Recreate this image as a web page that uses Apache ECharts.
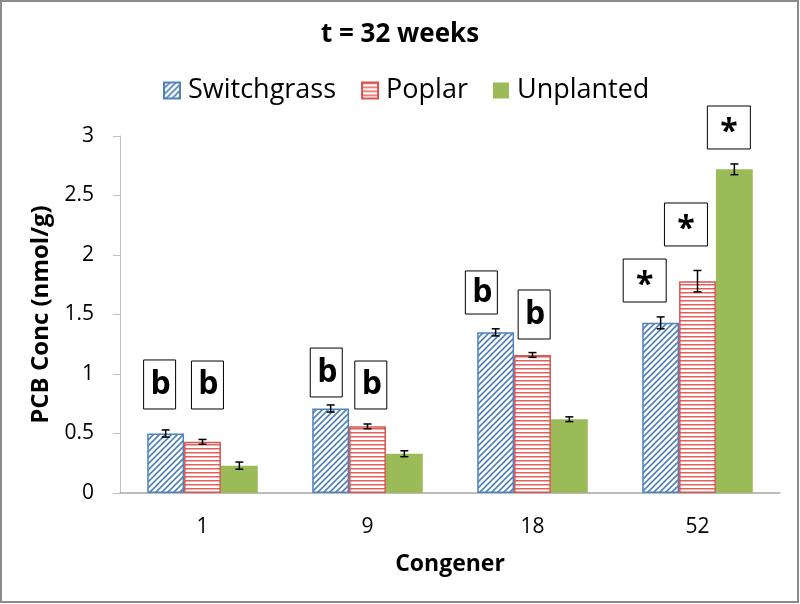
<!DOCTYPE html>
<html>
<head>
<meta charset="utf-8">
<script src="https://cdn.jsdelivr.net/npm/echarts@6/dist/echarts.min.js"></script>
<style>
  html, body { margin: 0; padding: 0; background: #fff; }
  #chart { width: 800px; height: 604px; }
</style>
</head>
<body>
<div id="chart"></div>
<script>
const congeners = ['1', '9', '18', '52'];
const seriesNames = ['Switchgrass', 'Poplar', 'Unplanted'];
const switchgrass = [0.50, 0.71, 1.35, 1.43];
const poplar = [0.43, 0.56, 1.16, 1.78];
const unplanted = [0.23, 0.33, 0.62, 2.72];
const switchgrassErr = [0.03, 0.03, 0.03, 0.05];
const poplarErr = [0.02, 0.02, 0.02, 0.09];
const unplantedErr = [0.03, 0.025, 0.02, 0.045];
const yTicks = [0, 0.5, 1, 1.5, 2, 2.5, 3];

// significance marks: category, series, text
const marks = [
  [0, 0, 'b'], [0, 1, 'b'],
  [1, 0, 'b'], [1, 1, 'b'],
  [2, 0, 'b'], [2, 1, 'b'],
  [3, 0, '*'], [3, 1, '*'], [3, 2, '*']
];
// where each mark's box sits: box top / bottom in axis units, horizontal shift in category widths
const markBoxes = [
  [1.118, 0.706, -0.26], [1.109, 0.706, 0.03],
  [1.218, 0.807, -0.25], [1.109, 0.706, 0.02],
  [1.866, 1.504, -0.31], [1.706, 1.294, 0.01],
  [1.966, 1.605, -0.32], [2.437, 2.076, -0.07], [3.252, 2.891, 0.19]
];

const catGap = 0.33;

function pattern(kind, color) {
  const c = document.createElement('canvas');
  const s = kind === 'diag' ? 6 : 4;
  c.width = s; c.height = s;
  const ctx = c.getContext('2d');
  ctx.fillStyle = '#fff';
  ctx.fillRect(0, 0, s, s);
  if (kind === 'diag') {
    ctx.strokeStyle = color;
    ctx.lineWidth = 1.6;
    ctx.beginPath();
    ctx.moveTo(-1, s + 1); ctx.lineTo(s + 1, -1);
    ctx.moveTo(-1, 1); ctx.lineTo(1, -1);
    ctx.moveTo(s - 1, s + 1); ctx.lineTo(s + 1, s - 1);
    ctx.stroke();
  } else {
    ctx.fillStyle = color;
    ctx.fillRect(0, 0, s, 1.5);
  }
  return c;
}

const fills = [
  { image: pattern('diag', '#4f81bd'), repeat: 'repeat' },
  { image: pattern('horiz', '#e0605c'), repeat: 'repeat' },
  '#9bbb59'
];
const borders = ['#4f81bd', '#d9534f', '#9bbb59'];
const values = [switchgrass, poplar, unplanted];
const errors = [switchgrassErr, poplarErr, unplantedErr];

function barOffset(api, idx) {
  const band = api.size([1, 0])[0];
  const w = band * (1 - catGap) / 3;
  return (idx - 1) * w;
}

function errorRender(idx) {
  return function (params, api) {
    const cat = api.value(0), v = api.value(1), e = api.value(2);
    const x = api.coord([cat, v])[0] + barOffset(api, idx);
    const hi = api.coord([cat, v + e])[1];
    const lo = api.coord([cat, v - e])[1];
    const st = { stroke: '#000', lineWidth: 1.5 };
    return {
      type: 'group',
      children: [
        { type: 'line', shape: { x1: x, y1: hi, x2: x, y2: lo }, style: st },
        { type: 'line', shape: { x1: x - 4, y1: hi, x2: x + 4, y2: hi }, style: st },
        { type: 'line', shape: { x1: x - 4, y1: lo, x2: x + 4, y2: lo }, style: st }
      ]
    };
  };
}

function markRender(params, api) {
  const cat = api.value(0);
  const top = api.value(1), bottom = api.value(2), shift = api.value(3);
  const band = api.size([1, 0])[0];
  const cx = api.coord([cat, top])[0] + shift * band;
  const y1 = api.coord([cat, top])[1];
  const y2 = api.coord([cat, bottom])[1];
  const text = marks[params.dataIndex][2];
  const w = text === '*' ? 43 : 32;
  return {
    type: 'group',
    children: [
      { type: 'rect', shape: { x: cx - w / 2, y: y1, width: w, height: y2 - y1 },
        style: { fill: '#fff', stroke: '#000', lineWidth: 1 } },
      { type: 'text', x: cx + (text === '*' ? 0 : 1), y: (y1 + y2) / 2 + (text === '*' ? 5 : 0),
        style: { text: text, fill: '#000', font: 'bold 32px "Open Sans"', align: 'center', verticalAlign: 'middle' } }
    ]
  };
}

const series = [];
seriesNames.forEach(function (name, i) {
  series.push({
    name: name,
    type: 'bar',
    data: values[i],
    barGap: '0%',
    barCategoryGap: (catGap * 100) + '%',
    itemStyle: { color: fills[i], borderColor: borders[i], borderWidth: i === 2 ? 0 : 1.5 }
  });
});
seriesNames.forEach(function (name, i) {
  series.push({
    type: 'custom',
    renderItem: errorRender(i),
    data: congeners.map(function (c, k) { return [k, values[i][k], errors[i][k]]; }),
    z: 5,
    silent: true
  });
});
series.push({
  type: 'custom',
  renderItem: markRender,
  clip: false,
  z: 6,
  data: marks.map(function (m, k) { return [m[0]].concat(markBoxes[k]); })
});

const chart = echarts.init(document.getElementById('chart'));
chart.setOption({
  animation: false,
  textStyle: { fontFamily: 'Open Sans' },
  title: {
    text: 't = 32 weeks',
    left: 'center',
    top: 17,
    textStyle: { fontSize: 26, fontWeight: 'bold', color: '#000', fontFamily: 'Open Sans' }
  },
  legend: {
    data: seriesNames,
    left: 158,
    top: 72,
    itemWidth: 16,
    itemHeight: 16,
    itemGap: 25,
    icon: 'rect',
    textStyle: { fontSize: 27, color: '#000', padding: [0, 0, 0, 3] }
  },
  grid: { left: 120, right: 20, top: 136, bottom: 111 },
  xAxis: {
    type: 'category',
    data: congeners,
    name: 'Congener',
    nameLocation: 'middle',
    nameGap: 60,
    nameTextStyle: { fontSize: 23, fontWeight: 'bold', color: '#000' },
    axisLine: { lineStyle: { color: '#a6a6a6', width: 1.5 } },
    axisTick: { show: false },
    axisLabel: { fontSize: 21, color: '#000', margin: 24 }
  },
  yAxis: {
    type: 'value',
    min: yTicks[0],
    max: yTicks[yTicks.length - 1],
    interval: yTicks[1] - yTicks[0],
    name: 'PCB Conc (nmol/g)',
    nameLocation: 'middle',
    nameGap: 66,
    nameTextStyle: { fontSize: 24, fontWeight: 'bold', color: '#000' },
    axisLine: { show: true, lineStyle: { color: '#bfbfbf', width: 1 } },
    axisTick: { show: true, inside: false, length: 7, lineStyle: { color: '#bfbfbf' } },
    splitLine: { show: false },
    axisLabel: { fontSize: 21, color: '#000', margin: 26 }
  },
  graphic: [{
    type: 'rect',
    shape: { x: 1, y: 1, width: 797, height: 601 },
    style: { fill: 'none', stroke: '#8c8c8c', lineWidth: 2 },
    silent: true
  }],
  series: series
});
</script>
</body>
</html>
